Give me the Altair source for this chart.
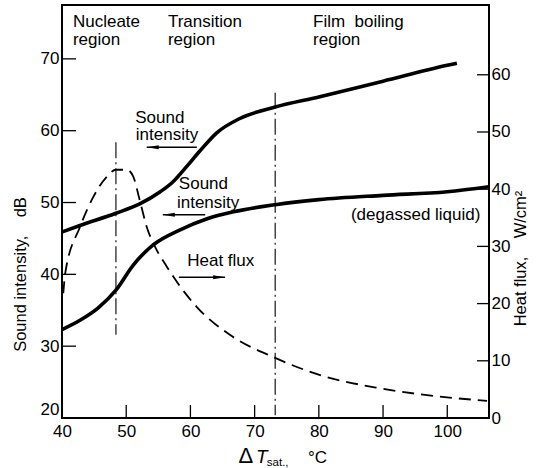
import altair as alt
import pandas as pd

# ---------------- data ----------------
upper_T = [40.0, 42.8, 48.4, 52.1, 55.3, 57.3, 59.4, 61.5, 64.1, 67.7, 73.2, 80.0, 90.0, 100.0, 101.5]
upper_dB = [45.9, 46.8, 48.5, 49.8, 51.5, 52.9, 55.0, 57.2, 59.7, 61.7, 63.3, 64.7, 66.9, 69.1, 69.4]

lower_T = [40.0, 42.8, 45.6, 48.4, 51.1, 54.2, 58.4, 62.5, 66.7, 73.2, 80.0, 90.0, 100.0, 106.5]
lower_dB = [32.3, 33.6, 35.3, 37.8, 41.3, 44.1, 46.2, 47.7, 48.7, 49.7, 50.4, 51.0, 51.5, 52.2]

flux_T = [40.2, 40.5, 42.8, 44.9, 47.0, 48.4, 50.1, 51.1, 52.1, 53.2, 54.5, 56.3, 58.4, 61.0, 66.2, 73.2, 80.2, 89.5, 98.4, 106.2]
flux_q = [21.8, 25.3, 33.4, 38.7, 42.2, 43.4, 43.4, 42.2, 38.1, 33.4, 29.9, 26.5, 23.0, 19.4, 14.5, 10.5, 7.5, 5.2, 3.8, 3.0]

x_ticks = [40, 50, 60, 70, 80, 90, 100]
left_ticks = [20, 30, 40, 50, 60, 70]
right_ticks = [0, 10, 20, 30, 40, 50, 60]

vline_T = [48.4, 73.2]
vline_top = [58.4, 65.3]
vline_bot = [31.6, 20.4]

label_text = ["Nucleate", "region", "Transition", "region", "Film\u00a0 boiling", "region",
              "Sound", "intensity", "Sound", "intensity", "Heat flux", "(degassed liquid)"]
label_T = [41.7, 41.7, 56.5, 56.5, 79.1, 79.1, 51.4, 51.5, 58.2, 57.9, 59.5, 85.0]
label_dB = [74.4, 71.95, 74.4, 71.95, 74.4, 71.95, 61.1, 58.7, 51.85, 49.3, 41.1, 47.6]

arrow_dB = [57.7, 48.3, 39.6]
arrow_from = [61.0, 62.3, 58.2]
arrow_to = [53.2, 55.7, 65.4]
arrow_dir = ["left", "left", "right"]

# ---------------- layout ----------------
W, H = 427, 413
FONT = "Liberation Sans"
NB = "\u00a0"

XS = alt.Scale(domain=[40, 106.5], nice=False, zero=False)
YL = alt.Scale(domain=[20, 77.5], nice=False, zero=False)
YR = alt.Scale(domain=[0, 72.2], nice=False, zero=False)

x_axis = alt.Axis(values=x_ticks, title=None, ticks=False, domain=False, grid=False,
                  labelFlush=False, labelPadding=5, labelFontSize=17, labelFont=FONT,
                  labelColor="black", labelOverlap=False)
left_axis = alt.Axis(values=left_ticks, title="Sound intensity," + NB * 4 + "dB", ticks=False, domain=False,
                     grid=False, labelFlush=1, labelPadding=3, labelFontSize=17, labelFont=FONT,
                     labelColor="black", labelOverlap=False,
                     titleX=-42, titleY=269, titleAngle=270, titleBaseline="middle",
                     titleAlign="center", titleFontSize=16.5, titleFontWeight="normal",
                     titleFont=FONT, titleColor="black")
right_axis = alt.Axis(values=right_ticks, orient="right", title="Heat flux," + NB * 4 + "W/cm²", ticks=False,
                      domain=False, grid=False, labelFlush=False, labelPadding=2, labelFontSize=17,
                      labelFont=FONT, labelColor="black", labelOverlap=False,
                      titleX=31, titleY=253, titleAngle=270, titleBaseline="middle",
                      titleAlign="center", titleFontSize=16.5, titleFontWeight="normal",
                      titleFont=FONT, titleColor="black")


def X(field="T"):
    return alt.X(f"{field}:Q", scale=XS, axis=x_axis)


def YLft(field="dB"):
    return alt.Y(f"{field}:Q", scale=YL, axis=left_axis)


def YRgt(field="q"):
    return alt.Y(f"{field}:Q", scale=YR, axis=right_axis)


curves = pd.concat([
    pd.DataFrame({"T": upper_T, "dB": upper_dB, "s": "upper"}),
    pd.DataFrame({"T": lower_T, "dB": lower_dB, "s": "lower"}),
])
flux = pd.DataFrame({"T": flux_T, "q": flux_q})
vlines = pd.DataFrame({"T": vline_T, "dB": vline_top, "dB2": vline_bot})
labels = pd.DataFrame({"T": label_T, "dB": label_dB, "text": label_text})
arrows = pd.DataFrame({"dB": arrow_dB, "T": arrow_from, "T2": arrow_to, "dir": arrow_dir})
lt = pd.DataFrame({"dB": left_ticks[1:]})
bt = pd.DataFrame({"T": x_ticks[1:]})
rt = pd.DataFrame({"q": right_ticks[1:]})

solid = alt.Chart(curves).mark_line(color="black", strokeWidth=3.6, interpolate="monotone").encode(
    x=X(), y=YLft(), detail="s:N")

vr = alt.Chart(vlines).mark_rule(color="black", strokeWidth=1.1, strokeDash=[16, 4, 2, 4]).encode(
    x=X(), y=YLft(), y2="dB2:Q")

txt = alt.Chart(labels).mark_text(align="left", baseline="alphabetic", fontSize=17, font=FONT,
                                  color="black").encode(x=X(), y=YLft(), text="text:N")

shafts = alt.Chart(arrows).mark_rule(color="black", strokeWidth=1.5).encode(
    x=X(), x2="T2:Q", y=YLft())

heads = alt.Chart(arrows).mark_point(filled=True, color="black", size=144, opacity=1).encode(
    x=alt.X("T2:Q", scale=XS, axis=x_axis), y=YLft(),
    shape=alt.Shape("dir:N", scale=alt.Scale(domain=["left", "right"],
                                             range=["M0,0L2,-0.33L2,0.33Z", "M0,0L-2,-0.33L-2,0.33Z"]),
                    legend=None))

lticks = alt.Chart(lt).mark_rule(color="black", strokeWidth=1.3).encode(
    y=YLft(), x=alt.value(0), x2=alt.value(14))
bticks = alt.Chart(bt).mark_rule(color="black", strokeWidth=1.3).encode(
    x=X(), y=alt.value(H), y2=alt.value(H - 13))

# x-axis title pieces:  ΔT_sat., °C
xt = pd.DataFrame({"T": [67.5, 70.2, 71.9, 78.3], "dB": [13.7, 13.7, 13.3, 13.7],
                   "text": ["Δ", "T", "sat.,", "°C"]})
xt1 = alt.Chart(xt.iloc[[0]]).mark_text(align="left", baseline="alphabetic", fontSize=22, font=FONT,
                                         color="black").encode(x=X(), y=YLft(), text="text:N")
xt2 = alt.Chart(xt.iloc[[1]]).mark_text(align="left", baseline="alphabetic", fontSize=19, font=FONT,
                                         fontStyle="italic", color="black").encode(x=X(), y=YLft(), text="text:N")
xt3 = alt.Chart(xt.iloc[[2]]).mark_text(align="left", baseline="alphabetic", fontSize=11.5, font=FONT,
                                         color="black").encode(x=X(), y=YLft(), text="text:N")
xt4 = alt.Chart(xt.iloc[[3]]).mark_text(align="left", baseline="alphabetic", fontSize=17, font=FONT,
                                         color="black").encode(x=X(), y=YLft(), text="text:N")

dashed = alt.Chart(flux).mark_line(color="black", strokeWidth=1.8, strokeDash=[12, 7],
                                   interpolate="monotone").encode(x=X(), y=YRgt())
rticks = alt.Chart(rt).mark_rule(color="black", strokeWidth=1.3).encode(
    y=YRgt(), x=alt.value(W), x2=alt.value(W - 12))

left_group = alt.layer(solid, vr, txt, shafts, heads, lticks, bticks, xt1, xt2, xt3, xt4)
right_group = alt.layer(dashed, rticks)

chart = alt.layer(left_group, right_group).resolve_scale(y="independent").properties(
    width=W, height=H,
    autosize=alt.AutoSizeParams(type="none"),
    padding={"left": 62, "top": 5, "right": 47, "bottom": 50},
    background="white",
).configure_view(stroke="black", strokeWidth=2)

chart.save("out.html", embed_options={"renderer": "svg", "actions": False})
